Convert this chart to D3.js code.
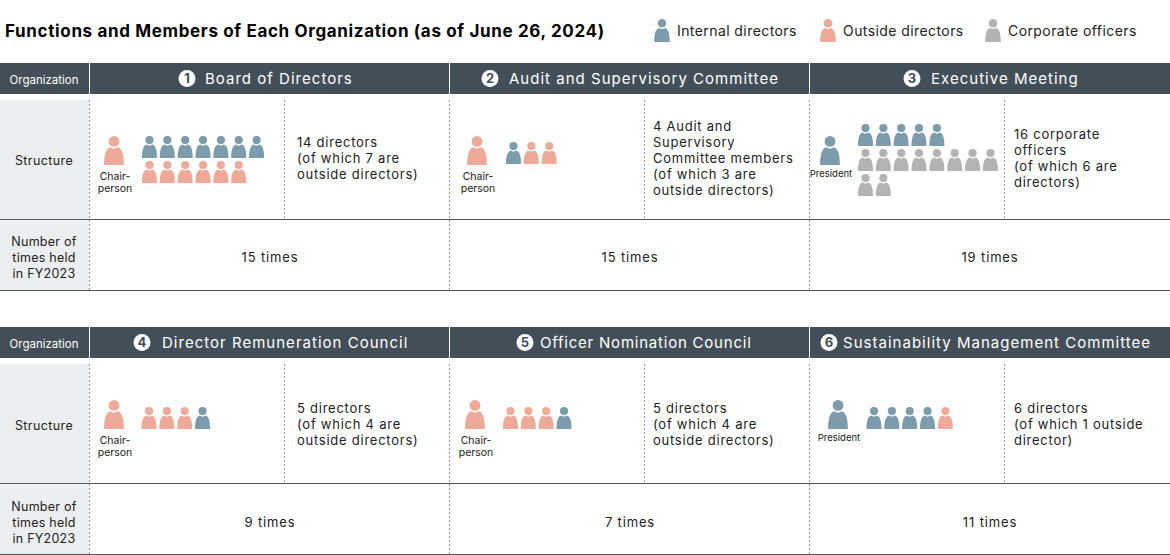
<!DOCTYPE html>
<html>
<head>
<meta charset="utf-8">
<script src="https://cdn.jsdelivr.net/npm/d3@7"></script>
<style>
  html, body { margin: 0; padding: 0; background: #fff; }
  svg { display: block; }
  text { font-family: "Inter", "Noto Sans", sans-serif; fill: #222; }
</style>
</head>
<body>
<div id="chart"></div>
<script>
// Data
var organizations = ["Board of Directors", "Audit and Supervisory Committee", "Executive Meeting",
  "Director Remuneration Council", "Officer Nomination Council", "Sustainability Management Committee"];
var timesHeld = [15, 15, 19, 9, 7, 11];
var leaderRoles = ["outside", "outside", "internal", "outside", "outside", "internal"];
var leaderLabels = [["Chair-", "person"], ["Chair-", "person"], ["President"],
  ["Chair-", "person"], ["Chair-", "person"], ["President"]];
var boardRows = [["internal", "internal", "internal", "internal", "internal", "internal", "internal"],
  ["outside", "outside", "outside", "outside", "outside", "outside"]];
var auditRows = [["internal", "outside", "outside"]];
var executiveRows = [["internal", "internal", "internal", "internal", "internal"],
  ["corporate", "corporate", "corporate", "corporate", "corporate", "corporate", "corporate", "corporate"],
  ["corporate", "corporate"]];
var remunerationRows = [["outside", "outside", "outside", "internal"]];
var nominationRows = [["outside", "outside", "outside", "internal"]];
var sustainabilityRows = [["internal", "internal", "internal", "internal", "outside"]];
var memberRows = [boardRows, auditRows, executiveRows, remunerationRows, nominationRows, sustainabilityRows];
var structureNotes = [
  ["14 directors", "(of which 7 are", "outside directors)"],
  ["4 Audit and", "Supervisory", "Committee members", "(of which 3 are", "outside directors)"],
  ["16 corporate", "officers", "(of which 6 are", "directors)"],
  ["5 directors", "(of which 4 are", "outside directors)"],
  ["5 directors", "(of which 4 are", "outside directors)"],
  ["6 directors", "(of which 1 outside", "director)"]
];
var legendRoles = ["internal", "outside", "corporate"];
var legendLabels = ["Internal directors", "Outside directors", "Corporate officers"];
var rowLabels = ["Organization", "Structure"];
var timesLabel = ["Number of", "times held", "in FY2023"];
var chartTitle = "Functions and Members of Each Organization (as of June 26, 2024)";

// Layout
var svgWidth = 1170;
var svgHeight = 555;
var tableTops = [63, 327];
var leaderOffset = [24, 27, 20, 24, 25, 28];
var memberGap = [35.5, 36.5, 35.5, 35, 35.5, 36];
var membersTop = [73, 79, 61, 80, 80, 80];
var noteOffset = [207, 203, 204, 207, 203, 204];
var badgeX = [97, 40, 102, 52, 75, 19];
var titleX = [115, 59, 121, 72, 90, 33];
var titleSpacing = [1.02, 1.02, 1.02, 1.02, 0.78, 1.02];

var color = d3.scaleOrdinal()
  .domain(["internal", "outside", "corporate"])
  .range(["#7c9bab", "#eeaa98", "#b3b3b3"]);

var panelX = d3.scaleBand().domain([0, 1, 2]).range([90, 1170]);
var memberX = d3.scaleLinear().domain([0, 1]).range([0, 17.85]);
var memberY = d3.scaleLinear().domain([0, 1]).range([0, 25]);
var legendX = d3.scaleOrdinal().domain(legendRoles).range([662, 828, 993]);

var svg = d3.select("#chart").append("svg")
  .attr("width", svgWidth)
  .attr("height", svgHeight);

var dark = "#434f58";
var pale = "#eceff2";

// head and shoulders of one person, 15 wide and 22 tall
function person(parent, role, x, y, size) {
  var g = parent.append("g")
    .attr("transform", `translate(${x},${y}) scale(${size})`)
    .attr("fill", color(role));
  g.append("circle").attr("cx", 0).attr("cy", 4.1).attr("r", 4.1);
  g.append("path").attr("d", "M-7.5 22C-7.5 14.5-6.3 9.3-2.6 8.6C-1 10 1 10 2.6 8.6C6.3 9.3 7.5 14.5 7.5 22Z");
}

// Title and legend
svg.append("text")
  .attr("x", 5)
  .attr("y", 36.5)
  .attr("font-size", 17)
  .attr("font-weight", 700)
  .attr("letter-spacing", 0.65)
  .style("fill", "#000")
  .text(chartTitle);

legendRoles.forEach(function(role, i) {
  person(svg, role, legendX(role), 19, 1.04);
  svg.append("text")
    .attr("x", legendX(role) + 15)
    .attr("y", 36)
    .attr("font-size", 14)
    .attr("letter-spacing", 0.42)
    .text(legendLabels[i]);
});

// The two tables
tableTops.forEach(function(top, t) {
  var g = svg.append("g").attr("transform", `translate(0,${top})`);
  // text in the lower table sits a little lower than in the upper one
  var dy = t === 0 ? 0 : 2.5;

  g.append("rect").attr("x", 0).attr("y", 0).attr("width", 89).attr("height", 31).attr("fill", dark);
  g.append("text")
    .attr("x", 44).attr("y", 20.5)
    .attr("text-anchor", "middle").attr("font-size", 11.5)
    .style("fill", "#fff")
    .text(rowLabels[0]);

  g.append("rect").attr("x", 0).attr("y", 37).attr("width", 89).attr("height", 119).attr("fill", pale);
  g.append("rect").attr("x", 0).attr("y", 158).attr("width", 89).attr("height", 69).attr("fill", pale);
  g.append("text")
    .attr("x", 44).attr("y", 101.5 + t)
    .attr("text-anchor", "middle").attr("font-size", 12.5)
    .attr("letter-spacing", 0.4)
    .text(rowLabels[1]);
  g.selectAll(".times-label").data(timesLabel).enter().append("text")
    .attr("x", 44)
    .attr("y", (d, i) => 182.5 + t + i * 16)
    .attr("text-anchor", "middle").attr("font-size", 12.5)
    .attr("letter-spacing", 0.25)
    .text(d => d);

  // horizontal rules
  g.selectAll(".rule").data([156.5, 227.5]).enter().append("line")
    .attr("x1", 0).attr("x2", svgWidth)
    .attr("y1", d => d).attr("y2", d => d)
    .attr("stroke", "#555").attr("stroke-width", 1);

  panelX.domain().forEach(function(p) {
    var index = t * 3 + p;
    var x0 = panelX(p);

    g.append("rect")
      .attr("x", x0).attr("y", 0)
      .attr("width", p === 2 ? panelX.bandwidth() : panelX.bandwidth() - 1).attr("height", 31)
      .attr("fill", dark);

    // circled number and organization name
    g.append("circle")
      .attr("cx", x0 + badgeX[index]).attr("cy", 15.5).attr("r", 8.5)
      .attr("fill", "#fff");
    g.append("text")
      .attr("x", x0 + badgeX[index]).attr("y", 20.3)
      .attr("text-anchor", "middle").attr("font-size", 13).attr("font-weight", 700)
      .style("fill", dark)
      .text(index + 1);
    g.append("text")
      .attr("x", x0 + titleX[index]).attr("y", 20.5)
      .attr("font-size", 15)
      .attr("letter-spacing", titleSpacing[index])
      .style("fill", "#fff")
      .text(organizations[index]);

    // dotted column lines
    g.selectAll(".sep").data([x0 - 0.5, x0 + 194.5]).enter().append("line")
      .attr("x1", d => d).attr("x2", d => d)
      .attr("y1", 37).attr("y2", (d, i) => i === 0 ? 227 : 156)
      .attr("stroke", "#999").attr("stroke-width", 1)
      .attr("stroke-dasharray", "2,2");

    // chairperson or president
    person(g, leaderRoles[index], x0 + leaderOffset[index], 73, 1.32);
    g.selectAll(".leader-label").data(leaderLabels[index]).enter().append("text")
      .attr("x", x0 + leaderOffset[index] + 1)
      .attr("y", (d, i) => (d === "President" ? 113.5 : 117) + i * 12)
      .attr("text-anchor", "middle")
      .attr("font-size", d => d === "President" ? 9.5 : 10.5)
      .text(d => d);

    // members
    memberRows[index].forEach(function(row, r) {
      row.forEach(function(role, c) {
        person(g, role, x0 + leaderOffset[index] + memberGap[index] + memberX(c), membersTop[index] + memberY(r), 1);
      });
    });

    // structure note, centered on the row
    var notes = structureNotes[index];
    g.selectAll(".note").data(notes).enter().append("text")
      .attr("x", x0 + noteOffset[index])
      .attr("y", (d, i) => 99.5 + dy + (i - (notes.length - 1) / 2) * 16)
      .attr("font-size", 13)
      .attr("letter-spacing", 0.75)
      .text(d => d);

    g.append("text")
      .attr("x", x0 + 180)
      .attr("y", 198.5 + t)
      .attr("text-anchor", "middle")
      .attr("font-size", 13)
      .attr("letter-spacing", 0.85)
      .text(timesHeld[index] + " times");
  });
});
</script>
</body>
</html>
